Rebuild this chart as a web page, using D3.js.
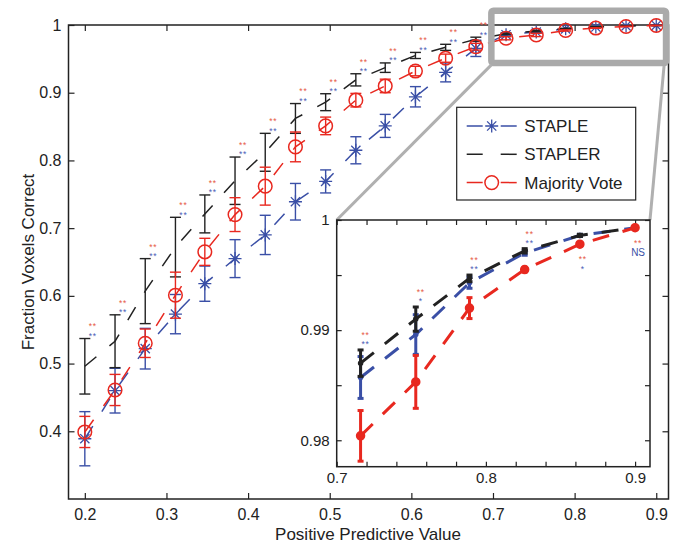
<!DOCTYPE html>
<html>
<head>
<meta charset="utf-8">
<script src="https://cdn.jsdelivr.net/npm/d3@7"></script>
<style>
  body { margin: 0; background: #fff; }
  svg { display: block; font-family: "Liberation Sans", Arial, Helvetica, sans-serif; }
</style>
</head>
<body>
<svg id="chart" width="677" height="544"></svg>
<script>
// positive predictive value (x) for every point
var ppv = [0.2, 0.237, 0.274, 0.311, 0.347, 0.384, 0.421, 0.458, 0.495, 0.532,
           0.568, 0.605, 0.642, 0.679, 0.716, 0.753, 0.789, 0.826, 0.863, 0.9];

var staple    = [0.389, 0.460, 0.522, 0.573, 0.618, 0.655, 0.690, 0.739, 0.769, 0.815,
                 0.851, 0.894, 0.930, 0.9655, 0.9857, 0.9896, 0.9943, 0.9970, 0.9986, 0.9993];
var stapleErr = [0.040, 0.033, 0.030, 0.029, 0.026, 0.028, 0.029, 0.027, 0.017, 0.020,
                 0.017, 0.015, 0.014, 0.012, 0.0019, 0.0018, 0.0005, 0.0002, 0.0001, 0.0001];

var stapler    = [0.496, 0.533, 0.607, 0.672, 0.721, 0.770, 0.812, 0.862, 0.886, 0.919,
                  0.937, 0.955, 0.967, 0.979, 0.9870, 0.9910, 0.9947, 0.9972, 0.9986, 0.9993];
var staplerErr = [0.041, 0.039, 0.048, 0.044, 0.028, 0.035, 0.028, 0.022, 0.0125, 0.009,
                  0.007, 0.0045, 0.0045, 0.003, 0.0012, 0.0011, 0.0003, 0.0002, 0.0001, 0.0001];

var majority    = [0.399, 0.461, 0.530, 0.601, 0.665, 0.720, 0.762, 0.820, 0.851, 0.889,
                   0.910, 0.932, 0.951, 0.968, 0.9804, 0.9853, 0.9920, 0.9955, 0.9978, 0.9993];
var majorityErr = [0.023, 0.023, 0.021, 0.034, 0.020, 0.025, 0.028, 0.022, 0.013, 0.010,
                   0.010, 0.007, 0.006, 0.005, 0.0023, 0.0024, 0.00095, 0.0002, 0.0001, 0.0001];

// significance marks (red: majority vote vs STAPLER, blue: STAPLE vs STAPLER)
var sigMajority = ["**","**","**","**","**","**","**","**","**","**",
                   "**","**","**","**","**","**","**","**","**","**"];
var sigStaple   = ["**","**","**","**","**","**","**","**","**","**",
                   "**","**","**","**","**","*","**","**","*","NS"];

var xTicks = [0.2, 0.3, 0.4, 0.5, 0.6, 0.7, 0.8, 0.9];
var yTicks = [0.4, 0.5, 0.6, 0.7, 0.8, 0.9, 1];
var insetXTicks = [0.7, 0.72, 0.74, 0.76, 0.78, 0.8, 0.82, 0.84, 0.86, 0.88, 0.9];
var insetXLabels = [0.7, 0.8, 0.9];
var insetYTicks = [0.98, 0.985, 0.99, 0.995, 1];
var insetYLabels = [0.98, 0.99, 1];

var legendNames = ["STAPLE", "STAPLER", "Majority Vote"];

var BLUE = "#3a4fa6", RED = "#e8281f", BLACK = "#222";
var SIG_RED = "#e65a44", SIG_BLUE = "#4a5db5";

var svg = d3.select("#chart");
svg.append("rect").attr("width", 677).attr("height", 544).attr("fill", "#fff");

// ---------- main axes ----------
var x = d3.scaleLinear().domain([0.18, 0.915]).range([68.5, 668.5]);
var y = d3.scaleLinear().domain([0.3, 1]).range([499, 25]);

var fmt = function(d) { return d === 1 ? "1" : String(d); };

function styleAxis(g, fs) {
  g.select(".domain").remove();
  g.selectAll(".tick line").attr("stroke", BLACK).attr("stroke-width", 1.2);
  g.selectAll(".tick text").attr("fill", BLACK).style("font-size", fs + "px")
    .style("font-family", "'Liberation Sans', Arial, sans-serif");
}

var main = svg.append("g");
main.append("g").attr("transform", "translate(0,499)")
  .call(d3.axisBottom(x).tickValues(xTicks).tickSize(-6).tickSizeOuter(0).tickPadding(10).tickFormat(fmt))
  .call(styleAxis, 16);
main.append("g").attr("transform", "translate(0,25)")
  .call(d3.axisTop(x).tickValues(xTicks).tickSize(-6).tickSizeOuter(0).tickFormat(""))
  .call(styleAxis, 16);
main.append("g").attr("transform", "translate(68.5,0)")
  .call(d3.axisLeft(y).tickValues(yTicks).tickSize(-6).tickSizeOuter(0).tickPadding(7).tickFormat(fmt))
  .call(styleAxis, 16);
main.append("g").attr("transform", "translate(668.5,0)")
  .call(d3.axisRight(y).tickValues(yTicks).tickSize(-6).tickSizeOuter(0).tickFormat(""))
  .call(styleAxis, 16);
main.append("rect").attr("x", 68.5).attr("y", 25).attr("width", 600).attr("height", 474)
  .attr("fill", "none").attr("stroke", BLACK).attr("stroke-width", 1.5);

main.append("text").attr("x", 368).attr("y", 540).attr("text-anchor", "middle")
  .style("font-size", "17px").attr("fill", BLACK).text("Positive Predictive Value");
main.append("text").attr("transform", "translate(34,262) rotate(-90)").attr("text-anchor", "middle")
  .style("font-size", "17px").attr("fill", BLACK).text("Fraction Voxels Correct");

// ---------- marker helpers ----------
function starPath(cx, cy, r) {
  var d = r * Math.SQRT1_2;
  return "M" + (cx - r) + "," + cy + "L" + (cx + r) + "," + cy +
         "M" + cx + "," + (cy - r) + "L" + cx + "," + (cy + r) +
         "M" + (cx - d) + "," + (cy - d) + "L" + (cx + d) + "," + (cy + d) +
         "M" + (cx - d) + "," + (cy + d) + "L" + (cx + d) + "," + (cy - d);
}

function drawSeries(g, sx, sy, idx, vals, errs, color, opt) {
  var s = g.append("g");
  idx.forEach(function(i) {
    var px = sx(ppv[i]), top = sy(vals[i] + errs[i]), bot = sy(vals[i] - errs[i]);
    s.append("line").attr("x1", px).attr("x2", px).attr("y1", top).attr("y2", bot)
      .attr("stroke", color).attr("stroke-width", opt.ew);
    [top, bot].forEach(function(yy) {
      s.append("line").attr("x1", px - opt.cap).attr("x2", px + opt.cap).attr("y1", yy).attr("y2", yy)
        .attr("stroke", color).attr("stroke-width", opt.ew);
    });
  });
  var line = d3.line().x(function(i) { return sx(ppv[i]); }).y(function(i) { return sy(vals[i]); });
  s.append("path").datum(idx).attr("d", line).attr("fill", "none")
    .attr("stroke", color).attr("stroke-width", opt.lw).attr("stroke-dasharray", opt.dash);
  idx.forEach(function(i) {
    var px = sx(ppv[i]), py = sy(vals[i]);
    if (opt.marker === "star") {
      s.append("path").attr("d", starPath(px, py, opt.size)).attr("stroke", color)
        .attr("stroke-width", 1.3).attr("fill", "none");
    } else if (opt.marker === "circle") {
      s.append("circle").attr("cx", px).attr("cy", py).attr("r", opt.size)
        .attr("fill", "none").attr("stroke", color).attr("stroke-width", 1.5);
    } else if (opt.marker === "dot") {
      s.append("circle").attr("cx", px).attr("cy", py).attr("r", opt.size)
        .attr("fill", color).attr("stroke", color).attr("stroke-width", 1.5);
    }
  });
}

// one significance mark, placed by the centre of its glyphs
var SIG_FS = 8.5;
function sigText(g, px, cy, txt, color) {
  var ns = txt === "NS";
  var fs = ns ? 10 : SIG_FS;
  g.append("text").attr("x", px).attr("y", cy + (ns ? 0.36 : 0.58) * fs)
    .attr("text-anchor", "middle").style("font-size", fs + "px")
    .style("letter-spacing", ns ? "0px" : "0.8px").attr("fill", color).text(txt);
}

var allIdx = d3.range(ppv.length);
var mainOpt = { ew: 1.4, cap: 5.5, lw: 1.5, dash: "15,17" };
drawSeries(main, x, y, allIdx, staple, stapleErr, BLUE, Object.assign({ marker: "star", size: 6.5 }, mainOpt));
drawSeries(main, x, y, allIdx, stapler, staplerErr, BLACK, Object.assign({ marker: "none" }, mainOpt));
drawSeries(main, x, y, allIdx, majority, majorityErr, RED, Object.assign({ marker: "circle", size: 6.8 }, mainOpt));

// significance marks above STAPLER error bars (points left of the zoom box)
allIdx.filter(function(i) { return ppv[i] < 0.7; }).forEach(function(i) {
  var top = y(stapler[i] + staplerErr[i]), px = x(ppv[i]) + 8;
  sigText(main, px, top - 14, sigMajority[i], SIG_RED);
  sigText(main, px, top - 4.5, sigStaple[i], SIG_BLUE);
});

// ---------- zoom box and connectors ----------
var zx0 = x(0.698), zx1 = x(0.912), zy0 = y(1.021), zy1 = y(0.944);
svg.append("rect").attr("x", zx0).attr("y", zy0).attr("width", zx1 - zx0).attr("height", zy1 - zy0)
  .attr("fill", "none").attr("stroke", "#aaaaaa").attr("stroke-width", 6.5).attr("rx", 2);

// ---------- inset ----------
var xi = d3.scaleLinear().domain([0.7, 0.91]).range([336.7, 650]);
var yi = d3.scaleLinear().domain([0.9776, 1]).range([466.7, 220]);

svg.append("line").attr("x1", zx0).attr("y1", zy1 + 2).attr("x2", 336.7).attr("y2", 220)
  .attr("stroke", "#b0b0b0").attr("stroke-width", 3);
svg.append("line").attr("x1", zx1 - 2).attr("y1", zy1 + 3).attr("x2", 650).attr("y2", 220)
  .attr("stroke", "#b0b0b0").attr("stroke-width", 3);

var inset = svg.append("g");
inset.append("rect").attr("x", 336.7).attr("y", 220).attr("width", 650 - 336.7).attr("height", 466.7 - 220)
  .attr("fill", "#fff");
inset.append("g").attr("transform", "translate(0,466.7)")
  .call(d3.axisBottom(xi).tickValues(insetXTicks).tickSize(-5).tickSizeOuter(0).tickPadding(6)
    .tickFormat(function(d) { return insetXLabels.indexOf(d) >= 0 ? fmt(d) : ""; }))
  .call(styleAxis, 15);
inset.append("g").attr("transform", "translate(0,220)")
  .call(d3.axisTop(xi).tickValues(insetXTicks).tickSize(-5).tickSizeOuter(0).tickFormat(""))
  .call(styleAxis, 15);
inset.append("g").attr("transform", "translate(336.7,0)")
  .call(d3.axisLeft(yi).tickValues(insetYTicks).tickSize(-5).tickSizeOuter(0).tickPadding(7)
    .tickFormat(function(d) { return insetYLabels.indexOf(d) >= 0 ? fmt(d) : ""; }))
  .call(styleAxis, 15);
inset.append("g").attr("transform", "translate(650,0)")
  .call(d3.axisRight(yi).tickValues(insetYTicks).tickSize(-5).tickSizeOuter(0).tickFormat(""))
  .call(styleAxis, 15);
inset.append("rect").attr("x", 336.7).attr("y", 220).attr("width", 650 - 336.7).attr("height", 466.7 - 220)
  .attr("fill", "none").attr("stroke", BLACK).attr("stroke-width", 1.5);

var insetIdx = allIdx.filter(function(i) { return ppv[i] > 0.7; });
var insetOpt = { ew: 3, cap: 3, lw: 3, dash: "17,14" };
drawSeries(inset, xi, yi, insetIdx, staple, stapleErr, BLUE, Object.assign({ marker: "dot", size: 2 }, insetOpt));
drawSeries(inset, xi, yi, insetIdx, stapler, staplerErr, BLACK, Object.assign({ marker: "dot", size: 2 }, insetOpt));
drawSeries(inset, xi, yi, insetIdx, majority, majorityErr, RED, Object.assign({ marker: "dot", size: 4 }, insetOpt));

insetIdx.forEach(function(i) {
  var px = xi(ppv[i]) + 5;
  if (i < ppv.length - 2) {
    var top = yi(stapler[i] + staplerErr[i]);
    sigText(inset, px, top - 17, sigMajority[i], SIG_RED);
    sigText(inset, px, top - 7.5, sigStaple[i], SIG_BLUE);
  } else {
    // last two points: marks sit below the majority-vote marker
    var bot = yi(majority[i] - majorityErr[i]), ns = sigStaple[i] === "NS";
    sigText(inset, px - 2, bot + 12, sigMajority[i], SIG_RED);
    sigText(inset, px - 2, bot + (ns ? 24 : 21.5), sigStaple[i], ns ? BLUE : SIG_BLUE);
  }
});

// ---------- legend ----------
var leg = svg.append("g");
leg.append("rect").attr("x", 456.7).attr("y", 107.3).attr("width", 179).attr("height", 92.7)
  .attr("fill", "#fff").attr("stroke", BLACK).attr("stroke-width", 1.2);
var legColors = [BLUE, BLACK, RED], legMarkers = ["star", "none", "circle"];
legendNames.forEach(function(name, k) {
  var cy = 126 + k * 28.3;
  leg.append("line").attr("x1", 466.7).attr("x2", 516.7).attr("y1", cy).attr("y2", cy)
    .attr("stroke", legColors[k]).attr("stroke-width", 1.5).attr("stroke-dasharray", "16,18");
  if (legMarkers[k] === "star") {
    leg.append("path").attr("d", starPath(491.7, cy, 6.5)).attr("stroke", legColors[k])
      .attr("stroke-width", 1.3).attr("fill", "none");
  } else if (legMarkers[k] === "circle") {
    leg.append("circle").attr("cx", 491.7).attr("cy", cy).attr("r", 6.8)
      .attr("fill", "none").attr("stroke", legColors[k]).attr("stroke-width", 1.5);
  }
  leg.append("text").attr("x", 524.3).attr("y", cy).attr("dy", "0.36em")
    .style("font-size", "17px").attr("fill", BLACK).text(name);
});
</script>
</body>
</html>
